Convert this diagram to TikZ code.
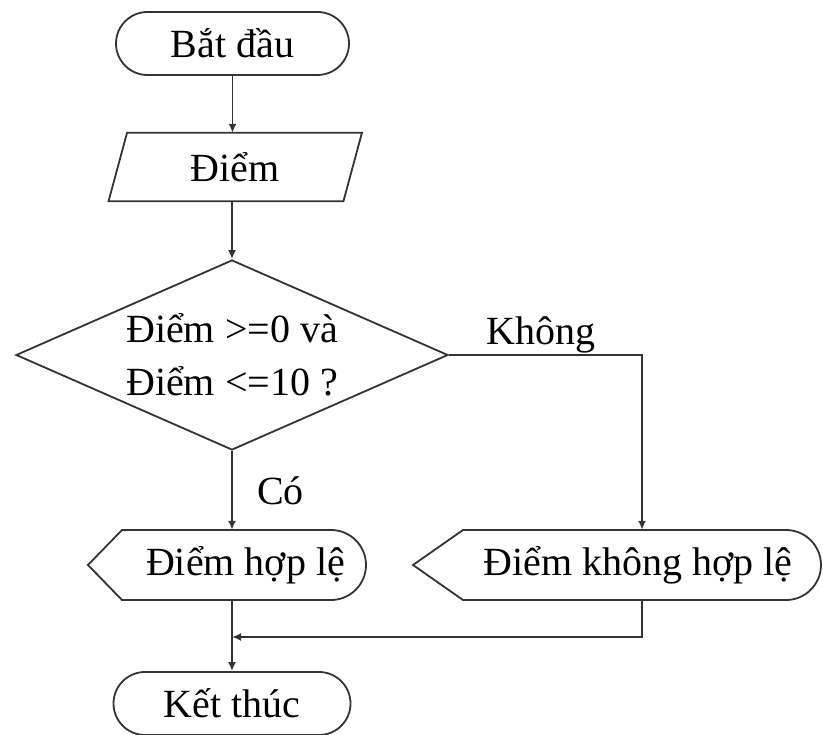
\documentclass[tikz,border=0pt]{standalone}
\usepackage{fontspec}
\setmainfont{Liberation Serif}
\usetikzlibrary{shapes.geometric,shapes.misc,arrows.meta}

\begin{document}
\begin{tikzpicture}[x=1pt,y=-1pt,
  flow/.style={draw=black!80, line width=1.8pt},
  arr/.style={flow, -{Latex[length=9pt,width=8pt]}},
  txt/.style={font=\fontsize{40}{53}\selectfont},
  terminal/.style={flow, txt, rounded rectangle, minimum height=63pt, inner sep=0pt},
  boxtext/.style={txt, inner sep=0pt, minimum height=70pt},
  lbl/.style={txt, inner sep=0pt}
]
\useasboundingbox (0,0) rectangle (823,735);

% start / input
\node[terminal, minimum width=233pt] (start) at (232.5,43.5) {Bắt đầu};
\node[txt, inner sep=0pt, minimum width=234.5pt, minimum height=68pt] (input) at (235.25,167) {Điểm};
\draw[flow] ([xshift=9.25pt]input.north west) -- ([xshift=9.25pt]input.north east)
  -- ([xshift=-9.25pt]input.south east) -- ([xshift=-9.25pt]input.south west) -- cycle;

% decision
\node[flow, diamond, txt, align=left, aspect=2.27, inner sep=0pt,
      minimum width=432pt, minimum height=190pt] (check) at (232,355)
      {Điểm >=0 và\\Điểm <=10 ?};

% display outputs
\node[boxtext] (valid) at (245.5,565) {Điểm hợp lệ};
\draw[flow] (88,565) -- (122,530) -- (331,530)
  arc[start angle=90, end angle=-90, radius=35pt] -- (122,600) -- cycle;

\node[boxtext] (invalid) at (638,565) {Điểm không hợp lệ};
\draw[flow] (413,565) -- (463,530) -- (786,530)
  arc[start angle=90, end angle=-90, radius=35pt] -- (463,600) -- cycle;

% end
\node[terminal, minimum width=237pt] (finish) at (232,703.5) {Kết thúc};

% connectors
\draw[arr] (start.south) -- (start.south |- input.north);
\draw[arr] (input.south -| check.north) -- (check.north);
\draw[arr] (check.south) -- (check.south |- valid.north);
\node[lbl, anchor=base west] (yes) at (257,505) {Có};
\draw[arr] (check.east) -| ([xshift=4pt]invalid.north);
\node[lbl, anchor=base west] (no) at (486,345) {Không};
\coordinate (merge) at (232,637);
\draw[arr] ([xshift=4pt]invalid.south) |- (merge);
\draw[arr] (check.south |- valid.south) -- (finish.north);
\end{tikzpicture}
\end{document}
